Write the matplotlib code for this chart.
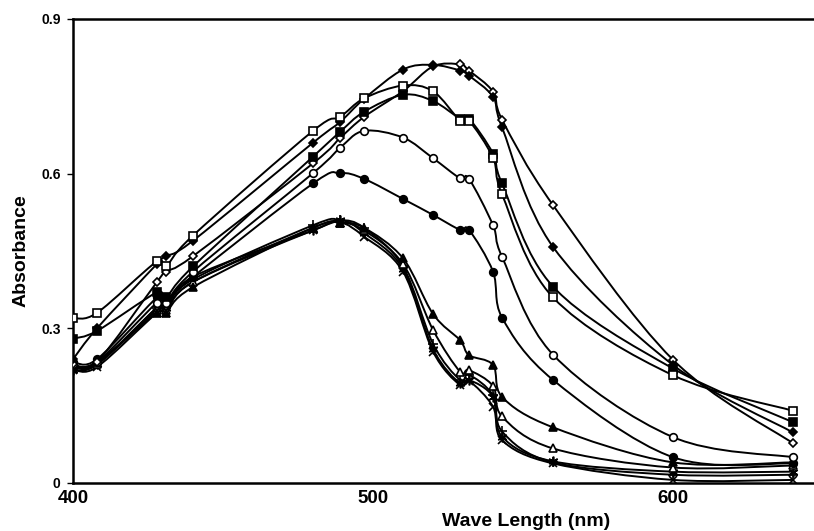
import numpy as np
import matplotlib
matplotlib.use('Agg')
import matplotlib.pyplot as plt
from matplotlib.path import Path
from matplotlib.patches import PathPatch

plt.rcParams['font.family'] = ['Liberation Sans', 'DejaVu Sans']
plt.rcParams['font.weight'] = 'bold'

# wavelengths (nm) shared by every spectrum
wavelength = [400, 408, 428, 431, 440, 480, 489, 497, 510, 520, 529, 532, 540, 543, 560, 600, 640]

abs_open_square = [0.320, 0.330, 0.430, 0.420, 0.480, 0.683, 0.710, 0.746, 0.771, 0.760, 0.703, 0.703, 0.631, 0.560, 0.360, 0.209, 0.140]
abs_fill_square = [0.280, 0.295, 0.370, 0.360, 0.420, 0.633, 0.681, 0.720, 0.753, 0.741, 0.707, 0.707, 0.639, 0.581, 0.381, 0.222, 0.118]
abs_fill_diamond = [0.240, 0.300, 0.425, 0.440, 0.470, 0.660, 0.700, 0.745, 0.802, 0.811, 0.800, 0.790, 0.749, 0.690, 0.458, 0.229, 0.098]
abs_open_diamond = [0.230, 0.235, 0.390, 0.410, 0.440, 0.620, 0.669, 0.710, 0.760, 0.808, 0.812, 0.800, 0.759, 0.705, 0.539, 0.239, 0.077]
abs_open_circle = [0.230, 0.235, 0.350, 0.350, 0.410, 0.601, 0.650, 0.683, 0.670, 0.630, 0.591, 0.590, 0.500, 0.439, 0.249, 0.089, 0.050]
abs_fill_circle = [0.235, 0.240, 0.360, 0.355, 0.400, 0.581, 0.601, 0.590, 0.551, 0.520, 0.491, 0.491, 0.410, 0.321, 0.200, 0.050, 0.038]
abs_fill_triangle = [0.225, 0.235, 0.330, 0.330, 0.380, 0.495, 0.505, 0.495, 0.436, 0.328, 0.277, 0.248, 0.229, 0.167, 0.108, 0.040, 0.040]
abs_open_triangle = [0.225, 0.230, 0.335, 0.335, 0.390, 0.495, 0.505, 0.490, 0.425, 0.297, 0.216, 0.219, 0.188, 0.129, 0.067, 0.030, 0.034]
abs_asterisk = [0.220, 0.230, 0.340, 0.340, 0.400, 0.490, 0.510, 0.485, 0.415, 0.260, 0.193, 0.200, 0.167, 0.090, 0.042, 0.022, 0.022]
abs_plus = [0.230, 0.230, 0.340, 0.340, 0.395, 0.500, 0.510, 0.495, 0.420, 0.270, 0.200, 0.210, 0.170, 0.100, 0.040, 0.016, 0.016]
abs_cross = [0.220, 0.225, 0.330, 0.330, 0.390, 0.490, 0.505, 0.478, 0.410, 0.255, 0.190, 0.198, 0.148, 0.083, 0.038, 0.006, 0.006]

# (values, marker, face colour, size)
series = [
    (abs_cross, 'x', 'black', 6),
    (abs_plus, '+', 'black', 7),
    (abs_asterisk, (6, 2, 0), 'black', 7),
    (abs_open_triangle, '^', 'white', 6),
    (abs_fill_triangle, '^', 'black', 6),
    (abs_fill_circle, 'o', 'black', 5.5),
    (abs_open_circle, 'o', 'white', 5.5),
    (abs_open_diamond, 'D', 'white', 4.5),
    (abs_fill_diamond, 'D', 'black', 4.5),
    (abs_fill_square, 's', 'black', 5.5),
    (abs_open_square, 's', 'white', 5.5),
]


def smooth_path(x, y):
    # Excel-like smoothed line: cubic Bezier through every point
    pts = np.column_stack([x, y]).astype(float)
    n = len(pts)
    verts = [pts[0]]
    codes = [Path.MOVETO]
    for i in range(n - 1):
        p0 = pts[i - 1] if i > 0 else pts[i]
        p1 = pts[i]
        p2 = pts[i + 1]
        p3 = pts[i + 2] if i + 2 < n else pts[i + 1]
        t1 = (p2 - p0) / 6.0
        t2 = (p3 - p1) / 6.0
        dx = p2[0] - p1[0]
        if t1[0] > dx:
            t1 = t1 * dx / t1[0]
        if t2[0] > dx:
            t2 = t2 * dx / t2[0]
        verts += [p1 + t1, p2 - t2, p2]
        codes += [Path.CURVE4] * 3
    return Path(verts, codes)


fig = plt.figure(figsize=(8.14, 5.31), dpi=100)
ax = fig.add_axes([73 / 814, 48 / 531, 741 / 814, 464 / 531])

for vals, mk, fc, ms in series:
    ax.add_patch(PathPatch(smooth_path(wavelength, vals), facecolor='none',
                           edgecolor='black', lw=1.4, zorder=2))
    ax.plot(wavelength, vals, linestyle='none', marker=mk, markersize=ms,
            markerfacecolor=fc, markeredgecolor='black', markeredgewidth=1.2, zorder=3)

ax.set_xlim(400, 647)
ax.set_ylim(0, 0.9)
ax.set_xticks([400, 500, 600])
ax.set_yticks([0, 0.3, 0.6, 0.9])
ax.set_yticklabels(['0', '0.3', '0.6', '0.9'])
ax.tick_params(axis='x', length=0, pad=5, labelsize=13.5)
ax.tick_params(axis='y', direction='out', length=4, width=1, pad=5, labelsize=10)

for side in ['left', 'top', 'bottom']:
    ax.spines[side].set_linewidth(1.8)
ax.spines['right'].set_visible(False)

ax.set_ylabel('Absorbance', fontsize=14, fontweight='bold', labelpad=8)
fig.text(526 / 814, 1 - 522 / 531, 'Wave Length (nm)', fontsize=14,
         fontweight='bold', ha='center', va='center')

fig.savefig('out.png', dpi=100)
